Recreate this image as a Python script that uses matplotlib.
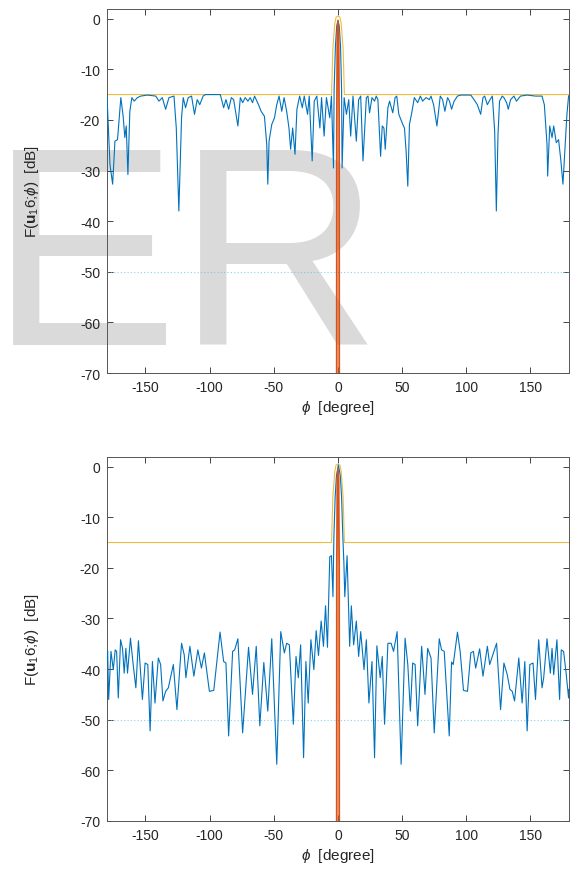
import numpy as np
import matplotlib
matplotlib.use("Agg")
import matplotlib.pyplot as plt

plt.rcParams['font.family'] = ['Liberation Sans', 'DejaVu Sans']
plt.rcParams['mathtext.fontset'] = 'custom'
plt.rcParams['mathtext.rm'] = 'Liberation Sans'
plt.rcParams['mathtext.bf'] = 'Liberation Sans:bold'
plt.rcParams['mathtext.it'] = 'Liberation Sans:italic'
plt.rcParams['axes.unicode_minus'] = False

# blue pattern, upper panel
phi_top = [-180, -177.7, -175.6, -173.8, -171.8, -169.2, -167.4, -166.1, -165.0, -163.7,
           -162.2, -160.6, -158.8, -156.3, -153.7, -148.5, -142.0, -139.5, -136.9, -134.3,
           -131.7, -127.8, -126.0, -124.0, -121.9, -120.6, -118.8, -116.7, -114.1, -111.8,
           -109.7, -107.7, -105.1, -103.3, -91.7, -89.1, -87.3, -85.2, -83.1, -81.3,
           -78.0, -76.1, -74.3, -72.3, -70.2, -68.4, -66.6, -65.0, -61.9, -59.9,
           -57.3, -55.5, -54.7, -53.7, -51.6, -49.5, -47.7, -45.9, -43.8, -42.0,
           -40.0, -38.2, -36.9, -35.3, -33.5, -32.0, -29.9, -27.8, -26.3, -23.7,
           -22.4, -20.1, -18.5, -16.5, -14.1, -12.8, -10.8, -9.0, -6.4, -5.1,
           -3.5, -3.0, -2.0, -1.0, 0.0, 1.0, 2.0, 2.8, 3.2,
           4.8, 6.6, 8.4, 9.9, 11.7, 14.3, 16.1, 17.7, 19.5, 22.1,
           23.4, 24.6, 26.5, 28.5, 29.8, 31.1, 33.2, 34.5, 35.8, 36.8,
           38.9, 40.2, 42.7, 44.5, 45.8, 47.4, 50.5, 51.8, 53.1, 54.4,
           55.7, 57.5, 59.5, 62.1, 64.2, 66.0, 68.6, 71.2, 72.5, 74.5,
           77.1, 79.7, 81.5, 83.3, 85.4, 86.9, 88.5, 90.5, 93.1, 95.7,
           103.5, 106.0, 108.6, 111.2, 113.0, 114.3, 116.4, 118.5, 120.3, 122.1,
           123.4, 124.7, 125.9, 128.0, 129.3, 131.4, 132.7, 134.5, 137.1, 139.1,
           142.2, 147.4, 153.9, 159.0, 160.8, 162.9, 163.4, 165.0, 166.8, 168.1,
           170.1, 171.9, 173.7, 175.3, 176.8, 178.4, 179.7, 180]
db_top = [-15.2, -28.8, -32.7, -24.2, -23.9, -15.6, -19.3, -23.5, -21.2, -30.8,
          -18.3, -15.6, -16.3, -15.6, -15.3, -15.1, -15.3, -16.3, -15.6, -17.9,
          -15.6, -15.3, -21.6, -38.0, -19.6, -15.6, -17.6, -15.6, -15.3, -18.9,
          -16.0, -17.0, -15.3, -15.0, -15.0, -17.6, -16.0, -17.9, -15.6, -16.0,
          -21.2, -15.6, -16.6, -15.6, -16.3, -15.6, -16.6, -15.3, -17.0, -18.3,
          -19.3, -24.9, -32.7, -24.2, -20.9, -19.6, -17.0, -15.3, -18.3, -15.6,
          -18.3, -21.6, -25.8, -21.6, -26.8, -17.9, -15.3, -17.6, -15.3, -18.9,
          -15.3, -28.1, -16.3, -15.3, -21.6, -15.6, -23.2, -15.6, -19.6, -15.3,
          -29.5, -14.0, -5.5, -1.5, -0.3, -1.5, -5.5, -14.0, -29.5,
          -15.6, -18.9, -16.0, -23.2, -15.3, -24.2, -16.0, -15.3, -28.1, -15.6,
          -15.3, -18.6, -15.6, -16.3, -15.3, -16.0, -27.2, -21.2, -21.6, -25.8,
          -17.6, -16.3, -18.6, -15.6, -15.3, -18.9, -20.9, -21.6, -26.2, -33.1,
          -20.9, -18.6, -15.6, -16.6, -15.3, -16.3, -15.6, -16.0, -15.3, -17.0,
          -21.2, -15.3, -16.0, -18.3, -15.6, -16.3, -17.9, -16.3, -15.3, -15.1,
          -15.1, -16.0, -17.0, -18.9, -15.6, -15.3, -17.0, -16.0, -15.3, -22.2,
          -38.0, -22.9, -16.3, -15.3, -15.6, -16.6, -17.9, -16.0, -15.3, -16.3,
          -15.3, -15.1, -15.3, -15.3, -17.0, -24.9, -31.1, -21.2, -23.5, -21.2,
          -24.5, -23.9, -28.1, -32.7, -26.2, -18.9, -15.3, -15.2]

# blue pattern, lower panel
phi_bot = [-180, -179.5, -178.7, -176.9, -175.1, -173.6, -172.5, -171.2, -169.4, -167.9,
           -166.6, -165.3, -164.0, -161.7, -159.6, -157.5, -155.5, -152.4, -150.3, -148.2,
           -146.4, -144.6, -142.6, -140.0, -138.2, -136.4, -134.3, -132.2, -128.3, -125.5,
           -121.9, -119.8, -118.5, -115.4, -112.3, -109.2, -106.4, -104.1, -100.2, -96.8,
           -91.9, -89.1, -87.3, -85.2, -82.1, -80.5, -78.0, -74.3, -69.7, -66.6,
           -63.7, -60.9, -57.8, -54.7, -51.6, -47.7, -44.6, -41.8, -40.0, -37.9,
           -34.8, -32.7, -30.9, -29.1, -26.8, -25.0, -23.2, -21.1, -18.8, -17.0,
           -15.2, -13.1, -11.3, -9.7, -8.2, -6.4, -5.1, -3.9,
           -3.2, -2.2, -1.2, 0.3, 1.8, 2.8, 3.8, 4.6, 5.3,
           7.1, 9.1, 10.4, 12.2, 14.3, 16.1, 17.7, 20.3, 22.1, 24.1,
           26.5, 28.5, 30.3, 32.9, 34.5, 36.3, 38.9, 41.4, 43.3, 46.1,
           49.2, 52.3, 54.4, 56.4, 58.2, 60.1, 62.1, 65.2, 67.8, 69.9,
           72.5, 75.0, 78.9, 80.7, 82.8, 86.7, 88.5, 89.8, 93.1, 95.2,
           97.8, 100.9, 103.5, 105.5, 107.3, 110.4, 113.0, 116.4, 118.2, 123.6,
           126.7, 129.3, 131.9, 134.0, 135.8, 137.6, 140.9, 143.5, 145.6, 147.4,
           149.5, 152.0, 153.9, 156.4, 159.0, 160.3, 162.9, 165.5, 166.8, 168.1,
           170.6, 172.7, 174.0, 175.8, 177.6, 179.7, 180]
db_bot = [-38.0, -36.5, -46.0, -36.5, -40.1, -36.2, -36.5, -45.7, -34.2, -35.9,
          -40.8, -35.9, -40.8, -33.9, -39.1, -43.7, -34.4, -46.0, -38.8, -39.1,
          -52.2, -38.5, -46.7, -37.8, -39.1, -46.3, -44.4, -43.7, -39.1, -48.0,
          -34.9, -37.2, -41.7, -35.5, -41.4, -36.2, -39.8, -36.8, -44.4, -44.2,
          -32.7, -38.5, -38.8, -53.2, -36.5, -36.2, -34.0, -52.6, -35.7, -45.0,
          -35.5, -51.2, -38.7, -48.3, -34.0, -58.8, -32.6, -36.8, -34.9, -35.2,
          -50.9, -37.5, -41.7, -35.2, -57.5, -38.5, -46.7, -34.2, -40.1, -32.4,
          -37.3, -30.5, -35.5, -27.5, -35.7, -17.8, -17.6, -25.7,
          -14.0, -6.0, -1.8, 0.3, -1.8, -6.0, -14.0, -19.0, -25.7,
          -17.6, -35.5, -27.5, -35.2, -30.5, -37.5, -32.6, -40.1, -34.2, -46.7,
          -38.5, -57.5, -35.4, -41.7, -37.5, -50.9, -34.9, -34.9, -36.5, -32.6,
          -58.8, -33.9, -39.1, -48.3, -38.8, -39.1, -51.2, -35.5, -45.0, -35.9,
          -37.8, -52.6, -34.0, -36.2, -36.5, -53.2, -38.6, -39.1, -32.7, -36.5,
          -44.2, -44.4, -36.8, -36.5, -39.8, -36.0, -41.4, -35.5, -39.1, -34.9,
          -48.0, -38.8, -41.1, -44.0, -44.4, -46.3, -37.8, -46.7, -38.5, -52.2,
          -39.1, -38.8, -46.0, -34.2, -43.7, -41.7, -34.0, -40.8, -35.9, -41.1,
          -34.2, -46.0, -36.2, -36.5, -40.4, -45.7, -44.0]

# mask (yellow) and steered beam (orange)
phi_mask = [-180, -5.0, -4.0, -2.5, -1.5, 0, 1.5, 2.5, 4.0, 5.0, 180]
db_mask = [-15, -15, -6, -1, 0.3, 0.5, 0.3, -1, -6, -15, -15]
phi_beam = [-1.0, -0.9, -0.5, 0, 0.5, 0.9, 1.0]
db_beam = [-90, -20, -2.5, -0.5, -2.5, -20, -90]
ref_level = -50

blue = '#0072BD'
orange = '#D95319'
yellow = '#EDB120'
dark = '#262626'

fig = plt.figure(figsize=(5.7, 8.7), dpi=100, facecolor='white')
ax1 = fig.add_axes([0.1877, 0.5701, 0.8105, 0.4184])
ax2 = fig.add_axes([0.1877, 0.0552, 0.8105, 0.4184])

# watermark behind the upper axes
fig.text(-10 / 570, 1 - 345 / 870, 'ER', fontsize=203, color='#dadada',
         family='Liberation Sans', ha='left', va='baseline', zorder=-1)
ax1.patch.set_alpha(0)

for ax, ph, db in [(ax1, phi_top, db_top), (ax2, phi_bot, db_bot)]:
    ax.axhline(ref_level, color='#4DBEEE', lw=0.8, ls=(0, (1, 2)), alpha=0.7)
    ax.plot(ph, db, color=blue, lw=0.8, zorder=3)
    ax.plot(phi_mask, db_mask, color=yellow, lw=0.8, alpha=0.85, zorder=2)
    ax.plot(phi_beam, db_beam, color=orange, lw=1.3, zorder=4)
    ax.set_xlim(-180, 180)
    ax.set_ylim(-70, 1.9)
    ax.set_xticks(np.arange(-150, 151, 50))
    ax.set_yticks(np.arange(-70, 1, 10))
    ax.tick_params(direction='in', top=True, right=True, length=4, width=0.6,
                   colors=dark, labelsize=10, pad=5)
    for s in ax.spines.values():
        s.set_color('#555555')
        s.set_linewidth(0.7)
    ax.set_xlabel(r'$\phi$  [degree]', fontsize=11, color=dark, labelpad=3)
    ax.set_ylabel(r'F($\mathbf{u}_1$6;$\phi$)  [dB]', fontsize=11, color=dark, labelpad=28)

fig.savefig('out.png', dpi=100)
